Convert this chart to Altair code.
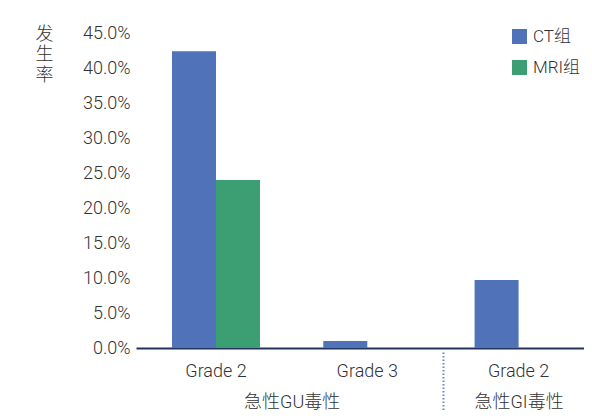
import altair as alt
import pandas as pd

# ---- data ----
categories = ["Grade 2", "Grade 3", "Grade 2"]
groups = ["急性GU毒性", "急性GU毒性", "急性GI毒性"]
ct_values = [0.424, 0.010, 0.097]
mri_values = [0.240, 0.0, 0.0]
series = ["CT组", "MRI组"]
y_title = ["发", "生", "率"]
y_ticks = [0.0, 0.05, 0.10, 0.15, 0.20, 0.25, 0.30, 0.35, 0.40, 0.45]

# ---- styling ----
BLUE = "#4f72b8"
GREEN = "#3c9f73"
TEXT = "#333333"
AXIS_LINE = "#22345a"
SEP = "#6a86c4"
FONT = "Roboto, 'Noto Sans CJK SC', sans-serif"
FW = 300
FS = 18
LEFT = 128
TOP = 25
W = 576 - LEFT
H = 315
P_IN = 0.4184
P_OUT = 0.1897
ALIGN = 0.627

keys = [f"{g}|{c}" for g, c in zip(groups, categories)]
rows = []
for k, a, b in zip(keys, ct_values, mri_values):
    rows.append({"key": k, "series": series[0], "value": a})
    rows.append({"key": k, "series": series[1], "value": b})
df = pd.DataFrame(rows)

n = len(keys)
# replicate the band-scale geometry so group labels / separator line up with bands
step = W / max(1, n - P_IN + 2 * P_OUT)
start = (W - step * (n - P_IN)) * ALIGN
bw = step * (1 - P_IN)
v0 = 0.5 - (start + bw / 2) / step
v1 = v0 + W / step


def band_boundary_v(i):
    x = start + (i + 1) * step - step * P_IN / 2
    return v0 + x / step


group_names = []
for g in groups:
    if g not in group_names:
        group_names.append(g)
group_pos = []
for g in group_names:
    idx = [i for i, gg in enumerate(groups) if gg == g]
    group_pos.append(round((min(idx) + max(idx)) / 2 + 0.5, 4))
sep_pos = [round(band_boundary_v(i - 1), 4) for i in range(1, n) if groups[i] != groups[i - 1]]

df_groups = pd.DataFrame({"pos": group_pos, "name": group_names})
df_sep = pd.DataFrame({"pos": sep_pos})

label_expr = " : ".join(
    [f"abs(datum.value - {p}) < 0.001 ? '{nm}'" for p, nm in zip(group_pos, group_names)]
) + " : ''"

bars = alt.Chart(df).mark_bar().encode(
    x=alt.X(
        "key:N",
        sort=keys,
        scale=alt.Scale(paddingInner=P_IN, paddingOuter=P_OUT, align=ALIGN),
        axis=alt.Axis(
            title=None,
            labelExpr="split(datum.value, '|')[1]",
            labelAngle=0,
            labelFont=FONT,
            labelFontSize=FS,
            labelFontWeight=FW,
            labelColor=TEXT,
            labelPadding=14,
            ticks=False,
            tickSize=0,
            domain=True,
            domainColor=AXIS_LINE,
            domainWidth=2,
            grid=False,
        ),
    ),
    xOffset=alt.XOffset("series:N", sort=series, scale=alt.Scale(paddingInner=0, paddingOuter=0)),
    y=alt.Y(
        "value:Q",
        scale=alt.Scale(domain=[0, 0.45], nice=False),
        axis=alt.Axis(
            values=y_ticks,
            format=".1%",
            title=y_title,
            titleAngle=0,
            titleAlign="center",
            titleBaseline="top",
            titleX=-92,
            titleY=-8,
            titleFont=FONT,
            titleFontSize=FS,
            titleFontWeight=FW,
            titleColor=TEXT,
            titleLineHeight=20.5,
            labelFont=FONT,
            labelFontSize=FS,
            labelFontWeight=FW,
            labelColor=TEXT,
            labelPadding=6,
            domain=False,
            ticks=False,
            tickSize=0,
            grid=False,
        ),
    ),
    color=alt.Color(
        "series:N",
        sort=series,
        scale=alt.Scale(domain=series, range=[BLUE, GREEN]),
        legend=alt.Legend(
            title=None,
            orient="none",
            legendX=375,
            legendY=-5,
            symbolType="square",
            symbolSize=225,
            symbolStrokeWidth=0,
            symbolOpacity=1,
            labelFont=FONT,
            labelFontSize=17,
            labelFontWeight=FW,
            labelColor=TEXT,
            labelOffset=5,
            rowPadding=13,
        ),
    ),
)

qscale = alt.Scale(domain=[v0, v1], nice=False, zero=False)

group_layer = alt.Chart(df_groups).mark_point(opacity=0).encode(
    x=alt.X(
        "pos:Q",
        scale=qscale,
        axis=alt.Axis(
            orient="bottom",
            title=None,
            values=group_pos,
            labelExpr=label_expr,
            labelFont=FONT,
            labelFontSize=FS,
            labelFontWeight=FW,
            labelColor=TEXT,
            labelPadding=45,
            ticks=False,
            tickSize=0,
            domain=False,
            grid=False,
            labelFlush=False,
            labelOverlap=False,
        ),
    ),
)

sep_layer = alt.Chart(df_sep).mark_point(opacity=0).encode(
    x=alt.X(
        "pos:Q",
        scale=qscale,
        axis=alt.Axis(
            orient="bottom",
            title=None,
            values=sep_pos,
            labels=False,
            ticks=True,
            tickSize=58,
            tickColor=SEP,
            tickWidth=2,
            tickDash=[1.5, 2],
            offset=4,
            domain=False,
            grid=False,
        ),
    ),
)

chart = (
    alt.layer(bars, group_layer, sep_layer)
    .resolve_scale(x="independent")
    .properties(
        width=W,
        height=H,
        autosize=alt.AutoSizeParams(type="none"),
        padding={"left": LEFT, "top": TOP, "right": 0, "bottom": 63},
        background="white",
    )
    .configure_view(stroke=None)
)

chart.save("out.html", embed_options={"renderer": "svg", "actions": False})
